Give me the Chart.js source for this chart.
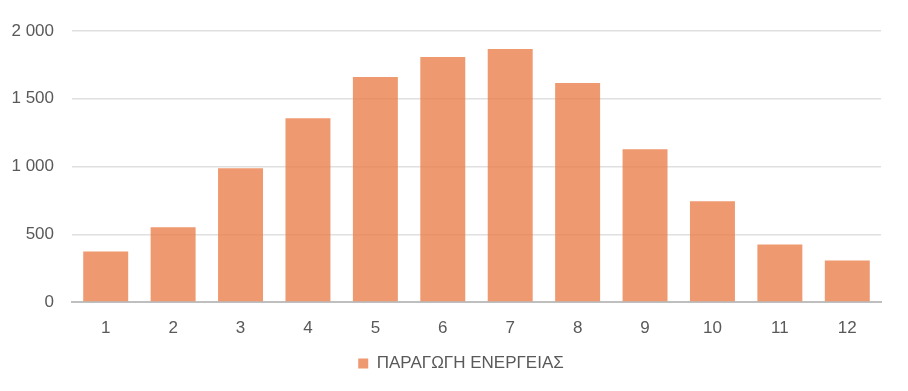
<!DOCTYPE html>
<html>
<head>
<meta charset="utf-8">
<script src="https://cdn.jsdelivr.net/npm/chart.js@4/dist/chart.umd.min.js"></script>
<style>
  html, body { margin: 0; padding: 0; background: #fff; }
  #wrap { width: 908px; height: 391px; }
</style>
</head>
<body>
<div id="wrap"><canvas id="myChart" width="908" height="391"></canvas></div>
<script>
'use strict';

// ---------------- data ----------------
let months = ['1', '2', '3', '4', '5', '6', '7', '8', '9', '10', '11', '12'];
let energy = [373, 551, 987, 1357, 1660, 1808, 1867, 1616, 1128, 743, 425, 307];
let seriesName = 'ΠΑΡΑΓΩΓΗ ΕΝΕΡΓΕΙΑΣ';
let yTicks = [0, 500, 1000, 1500, 2000];

let textColor = '#595959';
let fontFamily = "'Liberation Sans', Arial, sans-serif";

// thousands with a space, like "1 500"
function spaced(v) {
  return String(v).replace(/\B(?=(\d{3})+(?!\d))/g, ' ');
}

// the legend sits a bit right of the canvas centre in the original
let legendShift = {
  id: 'legendShift',
  afterLayout: function (chart) {
    if (chart.legend) {
      chart.legend.left += 41;
    }
  },
};

let ctx = document.getElementById('myChart').getContext('2d');
let myChart = new Chart(ctx, {
  type: 'bar',
  data: {
    labels: months,
    datasets: [
      {
        label: seriesName,
        data: energy,
        backgroundColor: 'rgba(234, 128, 76, 0.8)',
        borderWidth: 0,
        barPercentage: 0.667,
        categoryPercentage: 1.0,
      },
    ],
  },
  options: {
    responsive: false,
    animation: false,
    layout: {
      padding: { top: 31, right: 27, left: 0, bottom: 9 },
    },
    plugins: {
      legend: {
        position: 'bottom',
        labels: {
          boxWidth: 10,
          boxHeight: 10,
          color: textColor,
          font: { family: fontFamily, size: 17 },
        },
      },
      tooltip: { enabled: false },
    },
    scales: {
      x: {
        grid: { display: false },
        border: { display: true, color: '#BFBFBF', width: 2 },
        ticks: {
          color: textColor,
          padding: 8,
          font: { family: fontFamily, size: 17 },
        },
        afterFit: function (scale) {
          scale.height = 43;
        },
      },
      y: {
        min: 0,
        max: 2000,
        afterBuildTicks: function (scale) {
          scale.ticks = yTicks.map(function (v) { return { value: v }; });
        },
        grid: { color: '#E0E0E0', lineWidth: 1.5, drawTicks: false },
        border: { display: false },
        ticks: {
          color: textColor,
          padding: 18,
          font: { family: fontFamily, size: 17 },
          callback: function (value) { return spaced(value); },
        },
        afterFit: function (scale) {
          scale.width = 72;
        },
      },
    },
  },
  plugins: [legendShift],
});
</script>
</body>
</html>
